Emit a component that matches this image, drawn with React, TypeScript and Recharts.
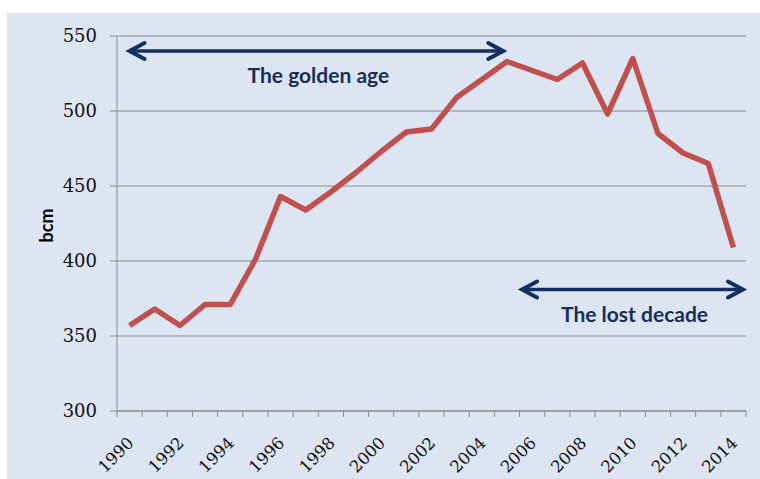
import React from 'react';
import { LineChart, Line, XAxis, YAxis, CartesianGrid, ReferenceLine } from 'recharts';

const years = [1990, 1991, 1992, 1993, 1994, 1995, 1996, 1997, 1998, 1999, 2000, 2001, 2002, 2003, 2004, 2005, 2006, 2007, 2008, 2009, 2010, 2011, 2012, 2013, 2014];
const production = [357, 368, 357, 371, 371, 401, 443, 434, 446, 459, 473, 486, 488, 509, 521, 533, 527, 521, 532, 498, 535, 485, 472, 465, 409];
const yTicks = [300, 350, 400, 450, 500, 550];
const xLabelYears = [1990, 1992, 1994, 1996, 1998, 2000, 2002, 2004, 2006, 2008, 2010, 2012, 2014];
const goldenAge = { label: 'The golden age', from: 1990, to: 2004.85, level: 540 };
const lostDecade = { label: 'The lost decade', from: 2005.6, to: 2014.38, level: 381 };

const data = years.map((year, i) => ({ year, value: production[i] }));
const boundaries = [...years.map((y) => y - 0.5), years[years.length - 1] + 0.5];
const xTicks = [...boundaries, ...xLabelYears].sort((a, b) => a - b);

const AXIS = '#8a8a8a';
const NAVY = '#172f5f';
const TEXT_NAVY = '#1b2d55';
const SERIF = '"DejaVu Serif", serif';
const SANS = 'Lato, "Open Sans", sans-serif';

const XTick = (props: any) => {
  const { x, y, payload } = props;
  const v = payload.value;
  if (!Number.isInteger(v)) {
    return <line x1={x} y1={y} x2={x} y2={y + 6} stroke={AXIS} strokeWidth={1} />;
  }
  const tx = x + 5;
  const ty = y + 33;
  return (
    <text
      x={tx}
      y={ty}
      transform={`rotate(-45 ${tx} ${ty})`}
      textAnchor="end"
      fontFamily={SERIF}
      fontSize={16.5}
      fill="#111"
    >
      {v}
    </text>
  );
};

const makeArrow = (label: string) => (props: any) => {
  const { x1, y1, x2, y2 } = props;
  const left = Math.min(x1, x2);
  const right = Math.max(x1, x2);
  const y = y1;
  const hx = 15;
  const hy = 8;
  return (
    <g>
      <line x1={left + 2} y1={y} x2={right - 2} y2={y2} stroke={NAVY} strokeWidth={3.5} />
      <polyline
        points={`${left + hx},${y - hy} ${left},${y} ${left + hx},${y + hy}`}
        fill="none"
        stroke={NAVY}
        strokeWidth={4}
        strokeLinecap="round"
        strokeLinejoin="miter"
      />
      <polyline
        points={`${right - hx},${y2 - hy} ${right},${y2} ${right - hx},${y2 + hy}`}
        fill="none"
        stroke={NAVY}
        strokeWidth={4}
        strokeLinecap="round"
        strokeLinejoin="miter"
      />
      <text
        x={(left + right) / 2 + 2}
        y={y + 32}
        textAnchor="middle"
        fontFamily={SANS}
        fontWeight={700}
        fontSize={21}
        fill={TEXT_NAVY}
      >
        {label}
      </text>
    </g>
  );
};

const YLabel = (props: any) => {
  const { viewBox } = props;
  const cx = 46;
  const cy = viewBox.y + viewBox.height / 2 + 2;
  return (
    <text
      x={cx}
      y={cy}
      transform={`rotate(-90 ${cx} ${cy})`}
      textAnchor="middle"
      dominantBaseline="central"
      fontFamily={SANS}
      fontWeight={700}
      fontSize={18}
      fill="#000"
    >
      bcm
    </text>
  );
};

export default function App() {
  return (
    <div style={{ position: 'fixed', left: 0, top: 0, width: 760, height: 479, background: '#fff', overflow: 'hidden' }}>
      <div style={{ position: 'absolute', left: 7, top: 13, width: 753, height: 466, background: '#dce5f1' }} />
      <div style={{ position: 'absolute', left: 0, top: 0 }}>
        <LineChart width={760} height={479} data={data} margin={{ top: 36, right: 14, bottom: 0, left: 0 }}>
          <CartesianGrid horizontal vertical={false} stroke={AXIS} strokeWidth={1} />
          <XAxis
            dataKey="year"
            type="number"
            domain={[1989.5, 2014.5]}
            ticks={xTicks}
            interval={0}
            tick={<XTick />}
            tickLine={false}
            tickSize={0}
            tickMargin={0}
            axisLine={{ stroke: AXIS }}
            height={68}
          />
          <YAxis
            type="number"
            domain={[300, 550]}
            ticks={yTicks}
            interval={0}
            width={117}
            tickSize={7}
            tickMargin={13}
            tickLine={{ stroke: AXIS }}
            axisLine={{ stroke: AXIS }}
            tick={{ fontFamily: SERIF, fontSize: 18, fill: '#111' }}
            label={<YLabel />}
          />
          <Line
            type="linear"
            dataKey="value"
            stroke="#c0504d"
            strokeWidth={5.5}
            dot={false}
            strokeLinejoin="round"
            isAnimationActive={false}
          />
          <ReferenceLine
            segment={[{ x: goldenAge.from, y: goldenAge.level }, { x: goldenAge.to, y: goldenAge.level }]}
            shape={makeArrow(goldenAge.label)}
          />
          <ReferenceLine
            segment={[{ x: lostDecade.from, y: lostDecade.level }, { x: lostDecade.to, y: lostDecade.level }]}
            shape={makeArrow(lostDecade.label)}
          />
        </LineChart>
      </div>
    </div>
  );
}
